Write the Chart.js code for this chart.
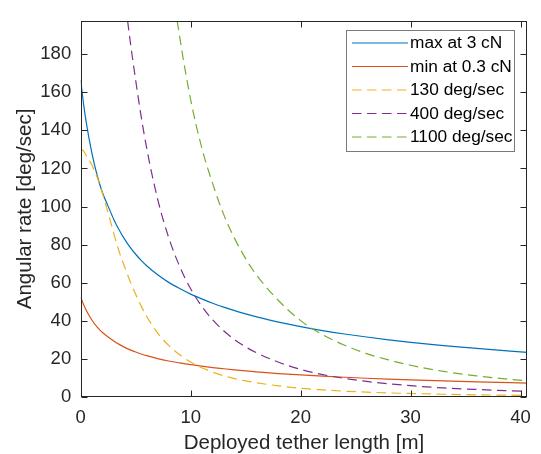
<!DOCTYPE html>
<html>
<head>
<meta charset="utf-8">
<script src="https://cdn.jsdelivr.net/npm/chart.js@4.4.1/dist/chart.umd.min.js"></script>
<style>
  html, body { margin: 0; padding: 0; background: #fff; }
  #chart { display: block; }
</style>
</head>
<body>
<canvas id="chart" width="541" height="454"></canvas>
<script>
// deployed tether length [m]
const lengths = [0, 0.25, 0.5, 1, 1.5, 2, 2.5, 3, 3.5, 4, 4.5, 5, 5.5, 6, 7, 8, 9, 10,
  11, 12, 13, 14, 15, 16, 18, 20, 22, 24, 26, 28, 30, 33, 36, 40.6];

// angular rate [deg/sec]
const maxAt3cN = [166.5, 154.2, 144.3, 128.6, 116.3, 107.0, 100.1, 93.4, 87.7, 82.8, 78.6,
  75.0, 71.8, 69.0, 64.2, 60.25, 57.0, 54.1, 51.6, 49.3, 47.3, 45.45, 43.75, 42.2, 39.4,
  37.05, 35.0, 33.2, 31.6, 30.1, 28.8, 27.1, 25.6, 23.6];
const minAt03cN = [52.66, 48.77, 45.64, 40.67, 36.78, 33.84, 31.66, 29.54, 27.74, 26.19,
  24.86, 23.72, 22.71, 21.82, 20.30, 19.05, 18.03, 17.11, 16.32, 15.59, 14.96, 14.37, 13.84,
  13.35, 12.46, 11.72, 11.07, 10.50, 9.99, 9.52, 9.11, 8.57, 8.10, 7.46];
const rate130 = [130, 129.2, 126.8, 121.9, 115.4, 106.5, 96.5, 86.1, 76.3, 68.3, 60.7, 54.0,
  47.8, 42.4, 33.7, 27.2, 22.3, 18.5, 15.5, 13.2, 11.3, 9.8, 8.6, 7.6, 6.0, 4.7, 3.9, 3.2,
  2.7, 2.3, 2.0, 1.6, 1.3, 1.0];
const rate400 = [400, 397.6, 390, 375, 355, 328, 297, 265, 234.8, 210, 186.8, 166.2, 147.2,
  130.6, 103.8, 83.8, 68.6, 56.9, 47.8, 40.6, 34.9, 30.2, 26.4, 23.3, 18.4, 14.6, 11.9, 9.9,
  8.3, 7.1, 6.1, 4.9, 4.1, 3.1];
const rate1100 = [1100, 1093, 1073, 1032, 977, 901, 816, 728, 646, 578, 514, 457, 405, 359,
  286, 230, 189, 156, 131, 112, 95.9, 83.2, 72.7, 64.0, 50.6, 40.2, 32.8, 27.3, 22.9, 19.6,
  16.8, 13.6, 11.2, 8.6];

const seriesLabels = ['max at 3 cN', 'min at 0.3 cN', '130 deg/sec', '400 deg/sec', '1100 deg/sec'];
const X_MAX = 40.6;
const Y_MAX = 197.5;

const FONT = '"Liberation Sans", Arial, Helvetica, sans-serif';
const AXIS_COLOR = '#262626';
const DASH = [9.5, 5.5];

function points(ys) {
  return lengths.map((x, i) => ({ x: x, y: ys[i] }));
}

function series(label, ys, color, dashed, order) {
  return {
    label: label,
    data: points(ys),
    borderColor: color,
    backgroundColor: color,
    borderWidth: 1.2,
    borderDash: dashed ? DASH : [],
    showLine: true,
    pointRadius: 0,
    cubicInterpolationMode: 'monotone',
    order: order
  };
}

// MATLAB-style box, inward ticks and legend
const axesBox = {
  id: 'axesBox',
  afterDraw(chart) {
    const ctx = chart.ctx;
    const a = chart.chartArea;
    const xs = chart.scales.x, ys = chart.scales.y;
    const L = Math.round(a.left) + 0.5, R = Math.round(a.right) - 0.5;
    const T = Math.round(a.top) + 0.5, B = Math.round(a.bottom) - 0.5;
    const tick = 6;

    ctx.save();
    ctx.strokeStyle = AXIS_COLOR;
    ctx.lineWidth = 1;
    ctx.setLineDash([]);
    ctx.strokeRect(L, T, R - L, B - T);

    ctx.beginPath();
    xs.ticks.forEach(t => {
      const px = Math.round(xs.getPixelForValue(t.value)) + 0.5;
      ctx.moveTo(px, B); ctx.lineTo(px, B - tick);
      ctx.moveTo(px, T); ctx.lineTo(px, T + tick);
    });
    ys.ticks.forEach(t => {
      const py = Math.round(ys.getPixelForValue(t.value)) + 0.5;
      ctx.moveTo(L, py); ctx.lineTo(L + tick, py);
      ctx.moveTo(R, py); ctx.lineTo(R - tick, py);
    });
    ctx.stroke();

    // legend
    const bx = 346.5, by = 30.5, bw = 168, bh = 121;
    ctx.fillStyle = '#fff';
    ctx.fillRect(bx, by, bw, bh);
    ctx.strokeStyle = '#7a7a7a';
    ctx.strokeRect(bx, by, bw, bh);

    ctx.font = '17.3px ' + FONT;
    ctx.textBaseline = 'middle';
    ctx.textAlign = 'left';
    chart.data.datasets.forEach((ds, i) => {
      const y = 43 + i * 23.5;
      ctx.strokeStyle = ds.borderColor;
      ctx.lineWidth = 1.2;
      ctx.setLineDash(ds.borderDash);
      ctx.beginPath();
      ctx.moveTo(352, y);
      ctx.lineTo(408, y);
      ctx.stroke();
      ctx.fillStyle = '#000';
      ctx.fillText(ds.label, 410, y + 0.5);
    });
    ctx.restore();
  }
};

new Chart(document.getElementById('chart'), {
  type: 'scatter',
  data: {
    datasets: [
      series(seriesLabels[0], maxAt3cN, '#0072BD', false, 4),
      series(seriesLabels[1], minAt03cN, '#D95319', false, 3),
      series(seriesLabels[2], rate130, '#EDB120', true, 2),
      series(seriesLabels[3], rate400, '#7E2F8E', true, 1),
      series(seriesLabels[4], rate1100, '#77AC30', true, 0)
    ]
  },
  options: {
    responsive: false,
    animation: false,
    devicePixelRatio: 1,
    layout: { padding: { left: 0, right: 7.7, top: 10.7, bottom: 0 } },
    plugins: { legend: { display: false }, tooltip: { enabled: false } },
    scales: {
      x: {
        type: 'linear',
        min: 0,
        max: X_MAX,
        afterFit: s => { s.height = 56.7; },
        grid: { display: false, drawTicks: false },
        border: { display: false },
        ticks: {
          stepSize: 10, includeBounds: false, autoSkip: false, maxRotation: 0,
          padding: 10, color: AXIS_COLOR, font: { family: FONT, size: 18.5 }
        },
        title: {
          display: true, text: 'Deployed tether length [m]', color: AXIS_COLOR,
          font: { family: FONT, size: 20.5, lineHeight: 1 }, padding: 0
        }
      },
      y: {
        type: 'linear',
        min: 0,
        max: Y_MAX,
        afterFit: s => { s.width = 80.7; },
        grid: { display: false, drawTicks: false },
        border: { display: false },
        ticks: {
          stepSize: 20, includeBounds: false, autoSkip: false,
          padding: 9.5, color: AXIS_COLOR, font: { family: FONT, size: 18.5 }
        },
        title: {
          display: true, text: 'Angular rate [deg/sec]', color: AXIS_COLOR,
          font: { family: FONT, size: 20.5, lineHeight: 1 }, padding: { top: 15, bottom: 0 }
        }
      }
    }
  },
  plugins: [axesBox]
});
</script>
</body>
</html>
